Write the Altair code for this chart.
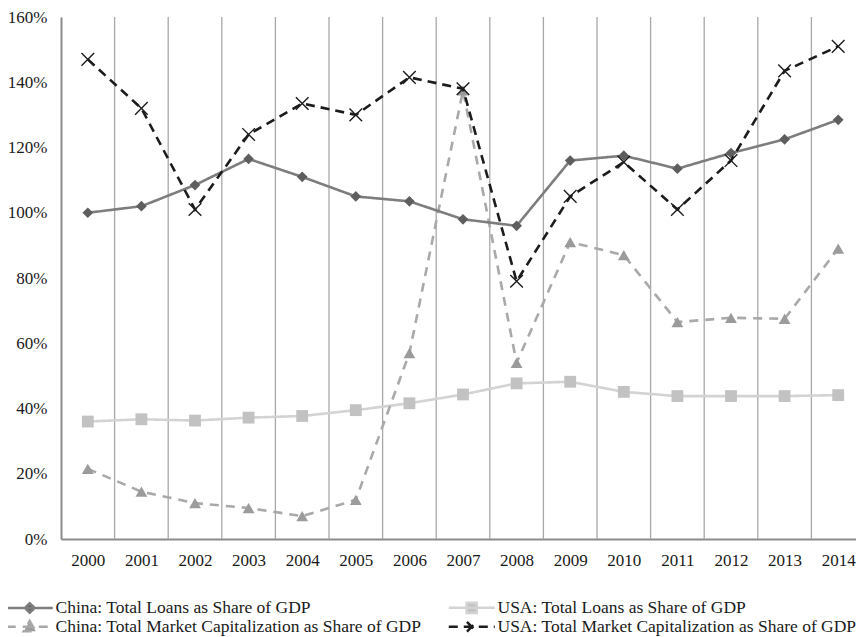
import altair as alt
import pandas as pd

years = list(range(2000, 2015))
series_names = [
    "China: Total Loans as Share of GDP",
    "USA: Total Loans as Share of GDP",
    "China: Total Market Capitalization as Share of GDP",
    "USA: Total Market Capitalization as Share of GDP",
]
china_loans = [100, 102, 108.5, 116.5, 111, 105, 103.5, 98, 96, 116, 117.5, 113.5, 118.3, 122.5, 128.5]
usa_loans = [36, 36.7, 36.3, 37.2, 37.7, 39.5, 41.6, 44.3, 47.7, 48.2, 45.1, 43.8, 43.8, 43.8, 44.1]
china_mcap = [21.5, 14.5, 11, 9.5, 7, 12, 57, 137.5, 54, 91, 87, 66.5, 67.8, 67.5, 89]
usa_mcap = [147, 132, 101, 124, 133.5, 130, 141.5, 138, 79, 105, 115.5, 101, 116, 143.5, 151]
y_ticks = [0, 20, 40, 60, 80, 100, 120, 140, 160]

values = [china_loans, usa_loans, china_mcap, usa_mcap]
rows = []
for name, vals in zip(series_names, values):
    for yr, v in zip(years, vals):
        rows.append({"year": yr, "series": name, "value": v})
df = pd.DataFrame(rows)
years_df = pd.DataFrame({"year": years})

# styles
line_colors = ["#7d7d7d", "#d3d3d3", "#a9a9a9", "#1c1c1c"]
marker_colors = ["#5e5e5e", "#c2c2c2", "#9b9b9b", "#1c1c1c"]
dashes = [[1, 0], [1, 0], [9, 7], [9, 6]]
shapes = ["diamond", "square", "triangle-up", "M-1,-1L1,1M-1,1L1,-1"]
sizes = [115, 140, 140, 160]
filled = [True, True, True, False]
legend_paths = [
    "M-3.83,0H3.83M0,-0.8L0.8,0L0,0.8L-0.8,0Z",
    "M-3.83,0H3.83M-0.85,-0.85H0.85V0.85H-0.85Z",
    "M-3.83,0H3.83M0,-0.95L1,0.75L-1,0.75Z",
    "M-3.83,0H3.83M-0.8,-0.8L0.8,0.8M-0.8,0.8L0.8,-0.8",
]
draw_order = [1, 2, 0, 3]

W, H = 795, 522
px_per_year = 53.6
x_domain = [years[0] - 0.5, years[0] - 0.5 + W / px_per_year]
FONT = "Liberation Serif"

x_axis = alt.Axis(values=years, format="d", title=None, grid=False, ticks=False, tickSize=0,
                  labelFont=FONT, labelFontSize=17, labelColor="#1a1a1a", labelPadding=13,
                  domainColor="#8c8c8c", domainWidth=2)
y_axis = alt.Axis(values=y_ticks, labelExpr="datum.value + '%'", title=None, grid=False,
                  ticks=False, tickSize=0, labelFont=FONT, labelFontSize=17,
                  labelColor="#1a1a1a", labelPadding=14, domainColor="#8c8c8c", domainWidth=2)
x_scale = alt.Scale(domain=x_domain, nice=False, zero=False)
y_scale = alt.Scale(domain=[0, 160], nice=False)

grid = alt.Chart(years_df).transform_filter(
    alt.datum.year < years[-1]
).transform_calculate(b="datum.year + 0.5").mark_rule(
    color="#a8a8a8", strokeWidth=1.3
).encode(
    x=alt.X("b:Q", scale=x_scale, axis=x_axis),
    y=alt.value(0),
    y2=alt.value(H),
)

layers = [grid]
for i in draw_order:
    name = series_names[i]
    base = alt.Chart(df).transform_filter(alt.datum.series == name)
    enc = dict(
        x=alt.X("year:Q", scale=x_scale, axis=x_axis),
        y=alt.Y("value:Q", scale=y_scale, axis=y_axis),
    )
    layers.append(base.mark_line(color=line_colors[i], strokeWidth=2.6,
                                 strokeDash=dashes[i]).encode(**enc))
    if filled[i]:
        pt = base.mark_point(shape=shapes[i], size=sizes[i], filled=True,
                             color=marker_colors[i], opacity=1)
    else:
        pt = base.mark_point(shape=shapes[i], size=sizes[i], filled=False,
                             color=marker_colors[i], opacity=1, strokeWidth=1.4)
    layers.append(pt.encode(**enc))

leg = alt.Legend(title=None, orient="none", legendX=-56, legendY=582, columns=2,
                 direction="horizontal",
                 columnPadding=21, rowPadding=-5, padding=0, labelFont=FONT,
                 labelFontSize=17.5, labelColor="#1a1a1a", labelLimit=0,
                 symbolSize=144, symbolStrokeWidth=2.5, symbolOffset=16, labelOffset=17)

legend_layer = alt.Chart(df).transform_filter("false").mark_point(
    filled=True, opacity=1, size=144
).encode(
    x=alt.X("year:Q", scale=x_scale, axis=x_axis),
    y=alt.Y("value:Q", scale=y_scale, axis=y_axis),
    fill=alt.Fill("series:N", scale=alt.Scale(domain=series_names, range=marker_colors), legend=leg),
    stroke=alt.Stroke("series:N", scale=alt.Scale(domain=series_names, range=line_colors), legend=leg),
    shape=alt.Shape("series:N", scale=alt.Scale(domain=series_names, range=legend_paths), legend=leg),
    strokeDash=alt.StrokeDash("series:N", scale=alt.Scale(domain=series_names, range=dashes), legend=leg),
)
layers.append(legend_layer)

chart = alt.layer(*layers).properties(
    width=W, height=H,
    padding={"left": 53, "top": 9, "right": 0, "bottom": 97},
    autosize=alt.AutoSizeParams(type="none"),
    background="white",
).configure_view(stroke=None)

chart.save("out.html", embed_options={"renderer": "svg", "actions": False})
